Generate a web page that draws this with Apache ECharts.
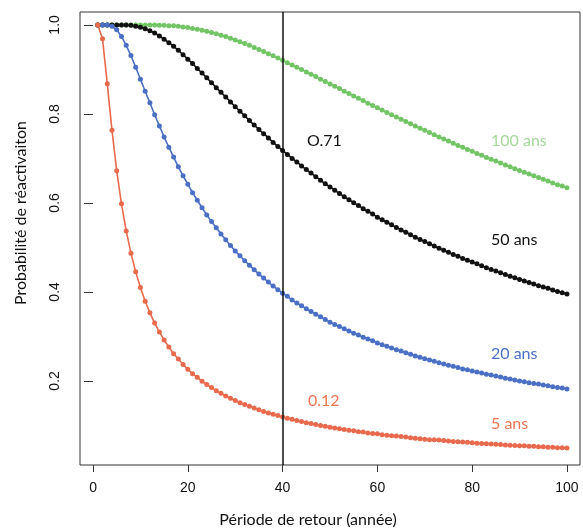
<!DOCTYPE html>
<html>
<head>
<meta charset="utf-8">
<script src="https://cdn.jsdelivr.net/npm/echarts@6/dist/echarts.min.js"></script>
<style>
html,body{margin:0;padding:0;background:#fff;}
#chart{width:583px;height:529px;}
</style>
</head>
<body>
<div id="chart"></div>
<script>
// Return period (years)
const periods = [1,2,3,4,5,6,7,8,9,10,11,12,13,14,15,16,17,18,19,20,
21,22,23,24,25,26,27,28,29,30,31,32,33,34,35,36,37,38,39,40,
41,42,43,44,45,46,47,48,49,50,51,52,53,54,55,56,57,58,59,60,
61,62,63,64,65,66,67,68,69,70,71,72,73,74,75,76,77,78,79,80,
81,82,83,84,85,86,87,88,89,90,91,92,93,94,95,96,97,98,99,100];

// Probability of reactivation, 5 years
const p5 = [1,0.969,0.868,0.763,0.672,0.598,0.537,0.487,0.445,0.410,
0.379,0.353,0.330,0.310,0.292,0.276,0.261,0.249,0.237,0.226,
0.216,0.208,0.199,0.192,0.185,0.178,0.172,0.166,0.161,0.156,
0.151,0.147,0.143,0.139,0.135,0.131,0.128,0.125,0.122,0.119,
0.116,0.114,0.111,0.109,0.106,0.104,0.102,0.100,0.098,0.096,
0.094,0.0925,0.091,0.089,0.088,0.086,0.085,0.083,0.082,0.081,
0.079,0.078,0.077,0.076,0.075,0.074,0.072,0.071,0.070,0.069,
0.068,0.0675,0.067,0.066,0.065,0.064,0.063,0.0625,0.062,0.061,
0.060,0.0595,0.059,0.058,0.0575,0.057,0.056,0.0555,0.055,0.054,
0.054,0.053,0.053,0.052,0.052,0.051,0.051,0.050,0.050,0.049];

// 20 years
const p20 = [1,1.000,1.000,0.997,0.989,0.974,0.954,0.931,0.905,0.878,
0.851,0.825,0.798,0.773,0.748,0.725,0.703,0.681,0.661,0.642,
0.623,0.606,0.589,0.573,0.558,0.544,0.530,0.517,0.504,0.492,
0.481,0.470,0.460,0.450,0.440,0.431,0.422,0.413,0.405,0.397,
0.390,0.382,0.375,0.369,0.362,0.356,0.350,0.344,0.338,0.332,
0.327,0.322,0.317,0.312,0.307,0.303,0.298,0.294,0.290,0.285,
0.281,0.278,0.274,0.270,0.267,0.263,0.260,0.256,0.253,0.250,
0.247,0.244,0.241,0.238,0.235,0.233,0.230,0.227,0.225,0.222,
0.220,0.218,0.215,0.213,0.211,0.209,0.206,0.204,0.202,0.200,
0.198,0.196,0.194,0.193,0.191,0.189,0.187,0.185,0.184,0.182];

// 50 years
const p50 = [1,1.000,1.000,1.000,1.000,1.000,1.000,0.999,0.997,0.995,
0.9915,0.987,0.982,0.975,0.968,0.960,0.952,0.943,0.933,0.923,
0.913,0.902,0.892,0.881,0.870,0.859,0.8485,0.838,0.827,0.816,
0.806,0.796,0.785,0.775,0.765,0.7555,0.746,0.736,0.727,0.718,
0.709,0.700,0.692,0.683,0.675,0.667,0.659,0.651,0.643,0.636,
0.6285,0.621,0.614,0.607,0.6005,0.594,0.587,0.581,0.575,0.568,
0.562,0.5565,0.551,0.545,0.539,0.534,0.5285,0.523,0.518,0.513,
0.508,0.503,0.498,0.4935,0.489,0.484,0.480,0.475,0.471,0.467,
0.463,0.4585,0.4545,0.4505,0.447,0.443,0.439,0.435,0.432,0.428,
0.4245,0.421,0.418,0.414,0.411,0.408,0.404,0.401,0.398,0.395];

// 100 years
const p100 = [1,1.000,1.000,1.000,1.000,1.000,1.000,1.000,1.000,1.000,
1.000,1.000,1.000,0.999,0.999,0.998,0.998,0.997,0.9955,0.994,
0.992,0.9905,0.988,0.986,0.983,0.980,0.977,0.974,0.970,0.966,
0.962,0.958,0.954,0.9495,0.945,0.940,0.935,0.9305,0.9255,0.9205,
0.915,0.910,0.905,0.900,0.894,0.889,0.884,0.878,0.873,0.867,
0.862,0.857,0.851,0.846,0.840,0.835,0.830,0.824,0.819,0.814,
0.8085,0.803,0.798,0.793,0.788,0.783,0.778,0.773,0.768,0.763,
0.758,0.753,0.748,0.7435,0.739,0.734,0.729,0.725,0.720,0.716,
0.711,0.707,0.702,0.698,0.694,0.6895,0.685,0.681,0.677,0.673,
0.669,0.665,0.661,0.657,0.653,0.649,0.645,0.641,0.638,0.634];

const xTicks = [0,20,40,60,80,100];
const yTicks = [0.2,0.4,0.6,0.8,1.0];
const refPeriod = 40;

const chart = echarts.init(document.getElementById('chart'), null, {renderer:'canvas'});

function mk(name, vals, color){
  return {
    name: name, type: 'line',
    data: periods.map((x,i)=>[x, vals[i]]),
    symbol: 'circle', symbolSize: 5,
    itemStyle: {color: color},
    lineStyle: {color: color, width: 1.6},
    animation: false, z: 3
  };
}

const labelFont = 'Lato, "Open Sans", sans-serif';

const option = {
  backgroundColor: '#ffffff',
  animation: false,
  grid: {left: 80, top: 12, width: 500, height: 453, show: true, borderColor: '#333', borderWidth: 1, backgroundColor: 'transparent'},
  xAxis: {
    type: 'value', min: -2.75, max: 102.75,
    axisLine: {show: false},
    splitLine: {show: false},
    axisTick: {show: true, length: 7, lineStyle: {color: '#333', width: 1}, customValues: xTicks},
    axisLabel: {customValues: xTicks, margin: 16, color: '#111', fontSize: 14, fontFamily: '"Liberation Sans", Arial, sans-serif'}
  },
  yAxis: {
    type: 'value', min: 0.011, max: 1.029,
    axisLine: {show: false},
    splitLine: {show: false},
    axisTick: {show: true, length: 9, lineStyle: {color: '#333', width: 1}, customValues: yTicks},
    axisLabel: {customValues: yTicks, rotate: 90, margin: 18, color: '#111', fontSize: 14,
      fontFamily: '"Liberation Sans", Arial, sans-serif', formatter: v => v.toFixed(1)}
  },
  series: [
    mk('100 ans', p100, '#72c465'),
    mk('50 ans', p50, '#111111'),
    mk('20 ans', p20, '#4a6fc4'),
    Object.assign(mk('5 ans', p5, '#e8694c'), {
      markLine: {
        silent: true, symbol: ['none','none'], label: {show: false},
        lineStyle: {color: '#111', width: 1.5, type: 'solid'},
        data: [{xAxis: refPeriod}]
      }
    })
  ],
  graphic: [
    {type:'text', left: 491, top: 133, style:{text:'100 ans', fill:'#a6d79c', font:'16px ' + labelFont}},
    {type:'text', left: 491, top: 232, style:{text:'50 ans', fill:'#111', font:'16px ' + labelFont}},
    {type:'text', left: 491, top: 346, style:{text:'20 ans', fill:'#4a6fc4', font:'16px ' + labelFont}},
    {type:'text', left: 491, top: 416, style:{text:'5 ans', fill:'#ee7552', font:'16px ' + labelFont}},
    {type:'text', left: 307, top: 133, style:{text:'O.71', fill:'#111', font:'16px ' + labelFont}},
    {type:'text', left: 308, top: 393, style:{text:'0.12', fill:'#ee7552', font:'16px ' + labelFont}},
    {type:'text', x: 308, y: 520, style:{text:'Période de retour (année)', fill:'#111', font:'16px ' + labelFont, textAlign:'center', textVerticalAlign:'middle'}},
    {type:'text', x: 21, y: 213, rotation: Math.PI/2, style:{text:'Probabilité de réactivaiton', fill:'#111', font:'16px ' + labelFont, textAlign:'center', textVerticalAlign:'middle'}}
  ]
};
chart.setOption(option);
</script>
</body>
</html>
